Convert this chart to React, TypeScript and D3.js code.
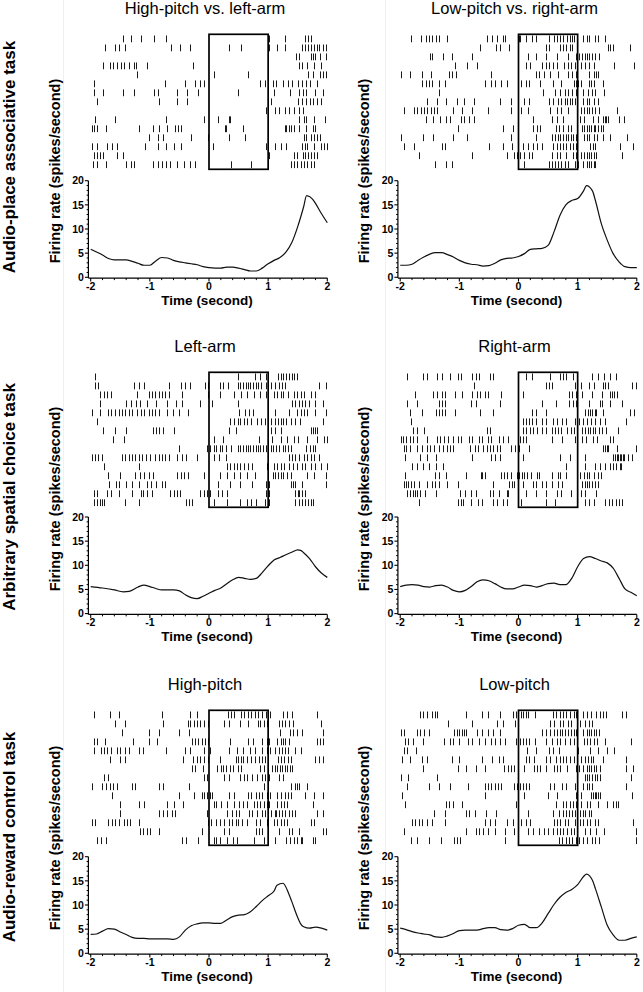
import React from "react";
import * as d3 from "d3";

const TIME_TICKS = [-2, -1, 0, 1, 2];
const RATE_TICKS = [0, 5, 10, 15, 20];
const PANEL_TITLES = [
  "High-pitch vs. left-arm",
  "Low-pitch vs. right-arm",
  "Left-arm",
  "Right-arm",
  "High-pitch",
  "Low-pitch",
];
const ROW_LABELS = [
  "Audio-place associative task",
  "Arbitrary spatial choice task",
  "Audio-reward control task",
];

// Firing-rate curves (time in s, rate in spikes/s)
const rate1T = [-2, -1.8, -1.7, -1.6, -1.4, -1.3, -1.2, -1.1, -1.0, -0.9, -0.8, -0.7, -0.6, -0.5, -0.4, -0.3, -0.2, -0.1, 0, 0.1, 0.2, 0.3, 0.4, 0.5, 0.6, 0.7, 0.8, 0.9, 1.0, 1.1, 1.2, 1.3, 1.4, 1.5, 1.6, 1.65, 1.75, 1.8, 1.9, 2.0];
const rate1V = [5.8, 4.6, 3.9, 3.6, 3.6, 3.3, 2.9, 2.5, 2.5, 3.4, 4.1, 4.0, 3.5, 3.2, 3.0, 2.8, 2.6, 2.2, 2.0, 1.9, 1.9, 2.1, 2.1, 1.9, 1.6, 1.3, 1.3, 1.9, 2.8, 3.5, 4.1, 5.2, 7.2, 10.5, 14.6, 16.9, 16.2, 15.3, 13.2, 11.3];
const rate2T = [-2, -1.9, -1.8, -1.7, -1.6, -1.5, -1.4, -1.3, -1.2, -1.1, -1.0, -0.9, -0.8, -0.7, -0.6, -0.5, -0.4, -0.3, -0.2, -0.1, 0, 0.1, 0.2, 0.3, 0.4, 0.5, 0.6, 0.7, 0.8, 0.9, 1.0, 1.1, 1.15, 1.25, 1.3, 1.4, 1.5, 1.6, 1.7, 1.8, 1.9, 2.0];
const rate2V = [2.5, 2.5, 2.7, 3.5, 4.2, 4.8, 5.1, 5.1, 4.7, 4.2, 3.5, 3.0, 2.7, 2.6, 2.3, 2.4, 2.9, 3.6, 3.9, 4.0, 4.3, 4.9, 5.8, 5.9, 6.0, 6.6, 9.4, 12.8, 15.0, 15.9, 16.3, 17.9, 19.0, 17.9, 15.9, 11.1, 7.7, 4.9, 3.2, 2.2, 2.0, 2.0];
const rate3T = [-2, -1.8, -1.6, -1.45, -1.35, -1.2, -1.1, -1.0, -0.9, -0.8, -0.6, -0.5, -0.4, -0.3, -0.2, -0.1, 0, 0.1, 0.2, 0.3, 0.4, 0.5, 0.6, 0.7, 0.8, 0.9, 1.0, 1.1, 1.2, 1.3, 1.4, 1.5, 1.55, 1.6, 1.7, 1.8, 1.9, 2.0];
const rate3V = [5.6, 5.3, 4.9, 4.5, 4.6, 5.5, 5.9, 5.6, 5.2, 4.9, 4.9, 4.7, 3.9, 3.3, 3.1, 3.6, 4.2, 4.8, 5.3, 6.2, 7.0, 7.5, 7.3, 7.1, 7.3, 8.5, 9.9, 11.1, 11.6, 12.2, 12.7, 13.2, 13.1, 12.6, 11.4, 9.7, 8.4, 7.5];
const rate4T = [-2, -1.9, -1.8, -1.7, -1.6, -1.5, -1.4, -1.3, -1.2, -1.1, -1.0, -0.9, -0.8, -0.7, -0.6, -0.5, -0.4, -0.3, -0.2, -0.1, 0, 0.1, 0.2, 0.3, 0.4, 0.5, 0.6, 0.7, 0.8, 0.9, 1.0, 1.1, 1.2, 1.3, 1.4, 1.5, 1.6, 1.7, 1.8, 1.9, 2.0];
const rate4V = [5.6, 5.9, 6.0, 5.9, 5.6, 5.5, 5.8, 5.9, 5.5, 4.8, 4.5, 4.8, 5.6, 6.6, 7.0, 6.8, 6.2, 5.5, 5.1, 5.1, 5.5, 5.9, 5.8, 5.5, 5.8, 6.2, 6.3, 6.0, 6.0, 7.3, 9.7, 11.4, 11.8, 11.4, 10.9, 10.5, 9.4, 7.3, 5.1, 4.4, 3.7];
const rate5T = [-2, -1.9, -1.8, -1.7, -1.6, -1.5, -1.4, -1.3, -1.2, -1.1, -1.0, -0.9, -0.8, -0.7, -0.6, -0.5, -0.4, -0.3, -0.2, -0.1, 0, 0.1, 0.2, 0.3, 0.4, 0.5, 0.6, 0.7, 0.8, 0.9, 1.0, 1.1, 1.15, 1.25, 1.35, 1.4, 1.5, 1.55, 1.6, 1.7, 1.8, 1.9, 2.0];
const rate5V = [3.9, 4.0, 4.6, 5.1, 5.0, 4.4, 3.9, 3.3, 3.1, 3.1, 3.0, 3.0, 3.0, 3.0, 2.9, 3.4, 4.8, 5.7, 6.1, 6.3, 6.3, 6.2, 6.2, 6.9, 7.6, 7.9, 8.0, 8.6, 9.7, 10.9, 11.9, 12.9, 14.1, 14.5, 12.3, 10.7, 7.4, 6.1, 5.5, 5.2, 5.4, 5.2, 4.8];
const rate6T = [-2, -1.9, -1.8, -1.7, -1.6, -1.5, -1.4, -1.3, -1.2, -1.1, -1.0, -0.9, -0.8, -0.7, -0.6, -0.5, -0.4, -0.3, -0.2, -0.1, 0, 0.1, 0.2, 0.3, 0.4, 0.5, 0.6, 0.7, 0.8, 0.9, 1.0, 1.1, 1.15, 1.25, 1.3, 1.4, 1.5, 1.6, 1.7, 1.8, 1.9, 2.0];
const rate6V = [5.2, 4.9, 4.5, 4.2, 4.0, 3.8, 3.4, 3.3, 3.6, 4.1, 4.7, 4.8, 4.8, 4.8, 5.1, 5.3, 5.3, 4.9, 4.8, 5.1, 5.8, 6.0, 5.3, 5.3, 6.3, 8.2, 10.1, 11.6, 12.6, 13.2, 14.2, 15.9, 16.4, 15.1, 13.4, 9.6, 5.8, 3.8, 2.7, 2.7, 3.1, 3.4];

// Spike rasters: one string of spike times (s) per trial
const raster1 = [
  "-1.46 -1.32 -1.15 -0.93 -0.72 1.02 1.28 1.62 1.67 1.73",
  "-1.75 -1.59 -1.53 -1.42 -0.65 -0.49 -0.32 0.34 0.54 1.02 1.15 1.29 1.58 1.63 1.67 1.72 1.77 1.82 1.86 1.92 1.97",
  "1.47 1.53 1.72 1.76 1.80 1.88 1.98",
  "-1.79 -1.67 -1.62 -1.56 -1.49 -1.44 -1.36 -1.27 -1.23 -1.05 -0.27 1.53 1.58 1.65 1.77 1.89",
  "-1.21 0.08 0.66 1.68 1.76 1.87 1.93 1.98",
  "-1.94 -0.74 -0.40 -0.24 -0.16 -0.08 0.87 0.95 1.08 1.13 1.25 1.34 1.40 1.50 1.58 1.64 1.71 1.82",
  "-1.95 -1.80 -1.45 -1.27 -0.93 -0.87 -0.54 -0.38 -0.19 0.49 1.10 1.37 1.53 1.59 1.64 1.80 1.92",
  "-1.89 -0.84 -0.54 -0.38 1.05 1.51 1.58 1.64 1.71 1.76 1.83 1.89",
  "0.97 1.11 1.19 1.28 1.36 1.44 1.53 1.59",
  "-1.93 -1.59 -0.73 -0.09 0.15 0.33 0.36 1.52 1.60 1.64 1.77 1.96",
  "-1.98 -1.94 -1.89 -1.74 -1.19 -0.95 -0.84 -0.71 -0.58 -0.53 -0.47 0.27 0.29 0.57 1.28 1.31 1.35 1.39 1.44 1.53 1.64 1.76 1.80",
  "-1.01 -0.87 -0.78 -0.30 -0.02 0.34 0.61 1.60 1.64 1.72 1.77 1.82 1.88",
  "-1.98 -1.90 -1.72 -1.64 -1.56 -1.08 -0.86 -0.73 -0.60 -0.47 0.06 0.96 1.11 1.22 1.31 1.58 1.62 1.66 1.77 1.89 1.94 1.99",
  "-1.95 -1.89 -1.84 -1.79 -1.55 -1.46 1.02 1.44 1.49 1.59 1.63 1.67 1.72 1.77 1.82",
  "-1.96 -1.90 -1.74 -1.41 -1.32 -1.27 -0.94 -0.87 -0.80 -0.73 -0.66 -0.54 -0.43 -0.32 -0.23 0.38 0.71 1.38 1.44 1.49 1.55 1.60 1.66 1.72 1.77",
];
const raster2 = [
  "-1.82 -1.65 -1.57 -1.51 -1.46 -1.40 -1.34 -1.21 -0.54 -0.44 -0.37 -0.26 -0.23 0.01 0.03 0.12 0.22 0.29 0.52 0.60 0.65 0.71 0.75 0.82 0.87 0.90 0.93 1.09 1.15 1.20 1.29 1.34 1.46",
  "-0.65 -0.38 -0.31 -0.16 0.47 0.52 0.71 0.75 0.81 0.87 0.90 1.51 1.55 1.60 1.89",
  "-1.49 -1.46 -1.27 -1.12 -0.78 0.16 0.29 0.47 0.65 0.84 0.98 1.03 1.07 1.12 1.16 1.20 1.25 1.30 1.36",
  "-1.07 -0.87 -0.71 0.12 0.20 0.40 0.46 0.52 0.58 0.65 0.77 0.83 0.89 0.95 1.06 1.12 1.20 1.27 1.61 1.96",
  "-1.98 -1.83 -1.63 -1.48 -1.17 -1.12 -1.06 -0.46 0.29 0.35 0.43 0.53 0.67 0.84 0.90 0.97 1.19 1.27 1.31 1.35",
  "-1.63 -1.57 -1.52 -1.46 -1.34 -1.24 -0.56 -0.47 -0.40 -0.30 -0.20 0.05 0.12 0.17 0.36 0.58 0.72 0.93 0.97 1.00 1.06 1.19 1.23 1.27 1.43",
  "-1.35 0.42 0.61 0.70 0.78 0.84 0.90 0.97 1.09 1.17 1.25 1.30 1.44",
  "-1.55 -1.37 -1.23 -1.04 -0.92 -0.76 -0.31 -0.13 0.09 0.17 0.52 0.58 0.67 0.72 0.78 0.82 0.87 0.91 0.95 0.99 1.09 1.15 1.20 1.27 1.34",
  "-1.93 -1.76 -1.71 -1.65 -1.60 -1.54 -1.48 -1.43 -1.38 -1.10 -0.95 -0.78 -0.51 -0.13 0.05 0.16 0.53 0.65 0.72 0.84 1.06 1.11 1.16 1.20 1.25 1.30 1.36 1.67",
  "-1.57 -1.44 -1.33 -1.23 -1.15 -0.98 -0.92 -0.84 -0.75 0.25 0.56 0.65 0.76 1.04 1.10 1.26 1.34 1.43 1.46 1.48 1.51 1.70 1.78",
  "-1.02 -0.26 -0.10 0.25 0.31 0.36 0.63 0.69 0.76 0.84 0.89 1.08 1.10 1.15 1.19 1.23 1.27 1.30 1.35 1.40 1.43",
  "-1.98 -1.62 -1.44 -1.11 -0.87 -0.13 0.30 0.57 0.61 0.66 0.71 0.75 0.80 0.84 0.88 0.92 0.98 1.10 1.15 1.19 1.27 1.33 1.43 1.54 1.83",
  "-1.94 -1.76 -1.30 -1.24 -0.50 -0.26 -0.11 0.08 0.16 0.25 0.31 0.39 0.58 0.65 0.71 0.75 0.81 0.87 0.92 0.98 1.21 1.26 1.30 1.72 1.93",
  "-1.68 -0.78 -0.19 -0.08 -0.02 0.02 0.09 0.17 0.23 0.57 0.65 0.71 0.81 0.92 0.98 1.06 1.10 1.15 1.19 1.23 1.27 1.31 1.75",
  "-1.42 -1.22 -1.13 0.09 0.52 0.57 0.61 0.67 0.72 0.78 0.84 0.95 1.01 1.09 1.15 1.19 1.23 1.27 1.30",
];
const raster3 = [
  "-1.92 0.49 0.77 0.87 0.96 1.17 1.21 1.25 1.30 1.35 1.40 1.44 1.49",
  "-1.93 -1.87 -1.26 -1.18 -1.10 -0.67 -0.47 -0.40 -0.32 -0.06 -0.02 0.19 0.24 0.32 0.49 0.53 0.57 0.62 0.66 0.70 0.74 0.79 0.82 0.88 0.97 1.04 1.11 1.18 1.24 1.29 1.86 1.97",
  "-1.84 -1.77 -1.72 -1.66 -1.22 -1.02 -0.96 -0.91 -0.85 -0.79 -0.74 -0.68 -0.46 -0.02 0.19 0.42 0.54 0.64 0.76 0.87 0.96 1.10 1.15 1.21 1.25 1.33 1.44 1.49 1.55 1.60 1.73 1.80",
  "-1.85 -1.40 -1.32 -1.23 -1.16 -1.05 -0.90 -0.71 -0.56 -0.46 -0.16 0.05 0.49 1.41 1.46 1.52 1.58 1.63 1.69 1.80 1.92",
  "-1.98 -1.84 -1.70 -1.66 -1.59 -1.53 -1.47 -1.42 -1.36 -1.31 -1.21 -1.15 -1.10 -1.02 -0.97 -0.91 -0.85 -0.71 -0.61 -0.50 -0.36 0.51 0.61 0.67 0.74 1.12 1.35 1.49 1.55 1.60 1.66 1.80 1.97",
  "-1.90 0.35 0.42 0.49 0.53 0.59 0.64 0.71 0.81 0.88 0.95 1.04 1.11 1.16 1.21 1.25 1.31 1.38 1.45 1.54 1.93",
  "-1.79 -1.59 -1.41 -0.95 -0.89 -0.84 -0.78 -0.60 0.33 0.45 1.05 1.11 1.21 1.72 1.76 1.80 1.83",
  "-1.62 -1.44 0.08 0.23 0.85 1.07 1.21 1.32 1.44 1.50 1.66 1.82 1.95 1.99",
  "-0.50 -0.03 0.01 0.08 0.12 0.18 0.22 0.29 0.37 0.49 0.53 0.58 0.62 0.66 0.70 0.75 0.79 0.83 0.87 0.91 0.96 1.00 1.05 1.09 1.14 1.18 1.25 1.29 1.33 1.38 1.64 1.71 1.75 1.80",
  "-1.98 -1.93 -1.87 -1.81 -1.47 -1.42 -1.36 -1.31 -1.25 -1.19 -1.14 -1.07 -0.99 -0.91 -0.85 -0.79 -0.74 -0.68 -0.54 -0.46 -0.39 -0.20 0.08 0.17 0.28 1.35 1.41 1.46 1.52 1.60 1.66 1.72 1.77 1.86",
  "-1.77 -1.18 0.31 0.36 0.42 0.47 0.53 0.59 0.66 0.73 0.98 1.10 1.15 1.21 1.27 1.35 1.42 1.49 1.58 1.63 1.72 1.80 1.89 1.99",
  "-1.71 -1.51 -1.25 -1.16 -1.10 -1.01 -0.94 -0.54 -0.48 -0.43 -0.36 -0.09 0.18 0.31 0.42 0.53 0.64 0.77 1.08 1.12 1.16 1.21 1.25 1.32 1.38 1.66 1.77 1.97",
  "-1.69 -1.57 -1.52 -1.41 -1.31 -1.18 -1.05 -0.98 -0.89 -0.80 -0.74 0.16 0.36 0.53 0.73 0.97 1.02 1.39 1.42 1.46 1.58 1.97",
  "-1.94 -1.90 -1.73 -1.66 -1.52 -1.31 -1.15 -1.11 -1.05 -0.97 -0.66 -0.60 -0.54 -0.49 -0.15 -0.09 -0.03 0.02 0.15 0.22 0.31 0.97 1.02 1.46 1.50 1.53 1.58 1.62",
  "-1.94 -1.90 -1.85 -1.81 -1.77 -1.42 -1.18 -0.39 -0.33 -0.28 0.08 0.31 0.53 0.64 0.71 0.79 0.95 1.01 1.46 1.52 1.58 1.63 1.67 1.72 1.75",
];
const raster4 = [
  "-1.88 -1.61 -1.55 -1.38 -1.30 -1.15 -1.03 -0.98 -0.78 -0.72 -0.66 -0.49 -0.43 0.13 0.23 0.54 0.70 0.75 0.81 0.92 1.24 1.34 1.44 1.54 1.65",
  "-0.76 0.46 0.52 0.57 0.96 1.06 1.20 1.27 1.43 1.47 1.52 1.92 1.99",
  "-1.75 -1.44 -1.38 -1.30 -1.24 -1.07 -0.96 -0.78 -0.71 -0.65 -0.57 -0.51 -0.29 0.08 0.85 0.91 0.98 1.07 1.24 1.42 1.54 1.58 1.62 1.67",
  "-1.89 -1.71 -1.34 -1.29 -1.24 -0.81 -0.72 -0.31 0.39 0.64 0.85 0.92 0.98 1.20 1.37 1.42 1.54 1.75",
  "-1.84 -1.63 -1.40 -1.35 -1.30 -1.24 -1.07 -0.65 -0.43 0.23 0.29 0.47 1.12 1.18 1.21 1.25 1.29 1.31 1.43 1.88 1.96",
  "-1.82 0.08 0.12 0.17 0.23 0.30 0.39 0.47 0.58 0.65 0.74 0.81 0.96 1.02 1.09 1.16 1.23 1.30 1.37 1.47 1.81",
  "-1.78 -1.71 -1.60 -0.54 -0.49 0.08 0.13 0.19 0.25 0.31 0.39 0.47 0.56 0.61 0.67 0.72 0.82 0.88 0.93 0.99 1.07 1.12 1.17 1.21 1.26 1.30 1.36 1.42 1.48 1.69",
  "-1.99 -1.96 -1.90 -1.84 -1.79 -1.72 -1.55 -1.38 -1.33 -1.26 -1.20 -1.10 -1.03 -0.98 -0.84 -0.78 -0.67 -0.61 -0.51 -0.46 -0.33 -0.26 -0.17 0.02 0.08 0.13 0.57 0.74 0.96 1.08 1.14 1.26 1.32 1.55 1.60",
  "-1.94 -1.90 -1.83 -1.71 -1.63 -1.55 -1.49 -1.43 -1.35 -1.27 -1.21 -1.16 -1.10 -0.82 -0.74 -0.68 -0.60 -0.54 -0.48 -0.43 -0.37 -0.31 -0.12 -0.06 0.01 0.17 1.43 1.46 1.49 1.52 1.66 1.99",
  "-1.92 -1.67 -1.55 -1.40 -0.78 -0.47 -0.40 -0.31 0.07 0.71 0.87 1.13 1.60 1.63 1.66 1.69 1.71 1.74 1.76 1.79 1.85 1.92",
  "-1.80 -1.71 -1.61 -1.52 -1.40 -1.27 0.81 1.13 1.30 1.37 1.47 1.54 1.60 1.65 1.71 1.74",
  "-1.92 -1.41 -1.34 -1.22 -0.88 -0.64 -0.61 -0.57 -0.29 -0.25 -0.19 -0.12 -0.03 0.01 0.06 0.10 0.15 0.21 0.31 0.35 0.57 0.66 0.70 0.81 1.04 1.10 1.15 1.20 1.27 1.34 1.40",
  "-1.94 -1.90 -1.86 -1.82 -1.76 -1.69 -1.54 -1.47 -1.41 -1.35 -1.21 -1.02 -0.43 -0.16 -0.11 -0.07 0.08 0.25 0.30 0.39 0.47 0.57 0.66 0.74 1.08 1.12 1.16 1.20 1.25 1.30 1.34",
  "-1.88 -1.83 -1.79 -1.75 -1.71 -1.66 -1.58 -1.40 -0.99 -0.90 -0.81 -0.72 -0.48 -0.43 -0.33 -0.20 -0.18 0.13 0.29 0.46 0.65 0.72 0.88 1.06 1.12 1.31",
  "-1.68 -1.02 -0.97 -0.93 -0.81 -0.68 -0.62 -0.43 -0.37 -0.26 -0.20 0.04 0.46 0.62 1.12 1.19 1.27 1.47 1.53 1.58 1.64 1.70 1.75",
];
const raster5 = [
  "-1.95 -1.67 -1.53 -0.80 -0.32 -0.20 0.32 0.37 0.42 0.54 0.60 0.66 0.71 0.77 0.82 0.90 0.97 1.03 1.25 1.32 1.41 1.83",
  "-1.59 -1.42 -0.77 -0.36 -0.32 -0.26 -0.20 -0.15 -0.08 -0.01 0.25 0.34 0.52 0.66 0.82 0.87 0.93 0.98 1.18 1.24 1.29 1.35 1.42 1.89",
  "-1.47 -1.01 -0.85 -0.51 -0.33 1.20 1.37 1.42 1.49 1.58 1.92",
  "-1.94 -1.90 -1.76 -1.28 -1.02 -0.88 -0.29 -0.23 -0.18 -0.12 -0.06 -0.01 0.36 0.66 0.74 0.90 0.98 1.01 1.15 1.21 1.25 1.29 1.35 1.83 1.87 1.92",
  "-1.94 -1.82 -1.77 -1.72 -1.66 -1.56 -1.50 -1.42 -1.36 -1.19 -1.11 -0.73 -0.40 -0.32 -0.09 0.02 0.33 0.47 0.58 0.69 0.78 0.90 0.98 1.03 1.12 1.18 1.24 1.29 1.33 1.46 1.55",
  "-1.67 -1.50 -1.42 -0.44 -0.27 -0.20 -0.15 -0.08 -0.01 0.19 0.45 0.49 0.54 0.58 0.64 0.71 0.77 0.84 0.90 0.95 1.16 1.22 1.27 1.33 1.38 1.80 1.86 1.92",
  "-0.29 -0.23 -0.10 0.14 0.20 0.24 0.29 0.35 0.41 0.49 0.54 0.87 0.93 1.07 1.11 1.15 1.20 1.24 1.28 1.32 1.37 1.41",
  "-1.77 -1.70 -0.09 -0.03 0.25 0.33 0.53 0.59 0.64 0.73 0.81 0.90 0.95 1.01 1.18 1.25",
  "-1.98 -1.81 -1.74 -1.68 -1.63 -1.56 -1.31 -1.25 -0.85 -0.77 -0.34 0.93 1.38 1.46 1.49 1.52 1.66",
  "-1.64 -0.51 -0.25 -0.12 -0.08 -0.03 0.01 0.05 0.33 0.43 0.66 0.71 0.79 0.84 0.90 0.98 1.03 1.15 1.22 1.29 1.33 1.38 1.63 1.77 1.92",
  "-1.50 -1.18 -1.10 -0.71 -0.59 -0.44 0.08 0.12 0.20 0.31 0.42 0.50 0.58 0.64 0.76 0.81 0.87 0.93 0.98 1.01 1.15 1.21 1.27 1.32 1.75",
  "-1.51 -0.85 -0.78 -0.71 -0.62 -0.57 -0.03 0.31 0.39 0.45 0.50 0.67 0.73 0.81 0.90 0.95 1.04 1.11 1.14 1.18 1.24 1.29 1.35 1.41 1.46 1.83 1.92",
  "-1.98 -1.93 -1.70 -1.64 -1.59 -1.53 -1.44 -1.38 -1.33 -1.18 -0.02 0.03 0.11 0.19 0.26 0.33 0.39 0.45 0.49 0.56 0.64 0.79 0.86 0.98 1.10 1.15 1.21 1.27 1.32 1.72 1.77",
  "-1.16 -1.11 -1.05 -0.99 -0.85 -0.12 0.26 0.33 0.79 0.85 0.90 1.18 1.35 1.41 1.52 1.92 1.97",
  "-1.90 -1.82 -1.74 -0.46 -0.39 -0.19 0.08 0.12 0.18 0.31 0.41 0.48 0.76 0.93 1.12 1.31 1.37 1.44 1.49 1.55 1.58 1.75 1.80",
];
const raster6 = [
  "-1.67 -1.61 -1.54 -1.47 -1.41 -1.37 -0.89 -0.62 -0.51 -0.31 -0.10 -0.04 0.04 0.08 0.12 0.16 0.28 0.58 0.64 0.70 0.75 0.81 0.87 0.93 0.98 1.09 1.15 1.23 1.31 1.37 1.43 1.48 1.75 1.81",
  "-1.20 -0.78 -0.36 -0.27 -0.06 0.54 0.60 0.71 0.76 0.84 0.88 1.04 1.12 1.19 1.25",
  "-1.98 -1.94 -1.71 -1.66 -1.60 -1.52 -1.09 -1.04 -1.00 -0.96 -0.92 -0.88 -0.70 -0.62 -0.51 -0.43 -0.31 0.39 0.46 0.53 0.60 0.65 0.70 0.74 0.78 0.84 0.88 0.93 0.98 1.09 1.15 1.19 1.23 1.27 1.31 1.36",
  "-1.92 -1.86 -1.78 -1.62 -1.26 -1.16 -1.10 -1.01 -0.85 -0.79 -0.67 -0.56 -0.47 -0.39 -0.31 -0.23 -0.04 -0.01 0.03 0.08 0.12 0.17 0.28 0.47 0.57 0.65 0.71 0.78 0.87 0.93 0.99 1.10 1.15 1.21 1.27 1.33 1.46 1.90",
  "-1.94 -1.88 -1.73 0.15 0.29 0.52 0.58 0.69 1.01 1.21 1.35 1.49 1.62",
  "-1.97 -1.83 -1.63 -1.55 -1.13 -1.00 -0.61 -0.44 -0.33 -0.26 0.13 0.18 0.26 0.46 0.53 0.64 0.70 0.75 0.81 0.87 0.93 0.99 1.06 1.12 1.17 1.23 1.26 1.43 1.82",
  "-1.62 -1.03 -0.88 -0.72 -0.56 -0.24 -0.18 -0.13 -0.07 0.09 0.26 0.32 0.37 0.47 0.60 0.65 0.71 0.82 0.98 1.03 1.09 1.15 1.19 1.23 1.27 1.31 1.37 1.81 1.93",
  "-1.98 -1.86 -1.38 1.12 1.16 1.20 1.25 1.29 1.33 1.37 1.90",
  "-1.88 -1.51 -1.35 -1.16 -0.85 -0.57 -0.51 -0.46 -0.40 -0.34 -0.29 -0.07 -0.02 0.02 0.08 0.13 0.18 0.54 0.60 0.74 0.80 0.95 0.99 1.09 1.15 1.20 1.25 1.81",
  "-1.97 -0.57 0.10 0.50 0.65 0.98 1.06 1.23 1.26 1.29 1.31 1.34 1.37 1.92",
  "-1.92 -1.22 -1.17 -1.11 -0.95 -0.04 0.63 0.75 0.81 0.87 0.92 0.98 1.06 1.15 1.21 1.34 1.50 1.60 1.65 1.69",
  "-1.43 -1.24 -0.88 -0.83 -0.74 -0.55 -0.38 0.16 0.58 0.68 0.76 0.81 0.85 0.90 0.95 0.99 1.04 1.09 1.13 1.19 1.23",
  "-1.80 -1.75 -1.69 -1.63 -1.54 -1.46 -1.24 -0.56 -0.48 -0.40 -0.19 -0.10 0.05 0.12 0.19 0.60 0.65 0.71 0.78 0.84 0.95 1.04 1.09 1.15 1.21 1.29 1.34 1.94",
  "-1.94 -0.89 -0.72 -0.67 -0.60 -0.51 -0.39 -0.23 -0.08 0.16 0.25 0.35 0.43 0.50 0.58 0.65 0.71 0.76 0.82 0.88 0.93 0.99 1.13 1.21 1.31 1.44 1.99",
  "-1.82 -1.72 -1.52 -1.31 -1.09 -1.04 -0.99 -0.23 0.69 0.74 0.80 0.85 0.91 0.97 1.02 1.09 1.15 1.24 1.29 1.36 1.99",
];

const RASTERS = [raster1, raster2, raster3, raster4, raster5, raster6];
const RATE_T = [rate1T, rate2T, rate3T, rate4T, rate5T, rate6T];
const RATE_V = [rate1V, rate2V, rate3V, rate4V, rate5V, rate6V];

const FONT = "'Liberation Sans', Arial, Helvetica, sans-serif";
const W = 643;
const H = 992;
const PLOT_W = 236.6;
const COL_X = [90.7, 400.2];
const ROW_STEP = 338;
const BOX_TOP0 = 34.3;
const BOX_H = 135;
const LINE_TOP = [180.7, 517, 856.7];
const LINE_H = 96.6;
const YLABEL_CY = [171, 499, 838];
const ROWLABEL_CY = [157, 497, 837];

function Panel({ idx }: { idx: number }) {
  const col = idx % 2;
  const row = Math.floor(idx / 2);
  const x0 = COL_X[col];
  const x = d3.scaleLinear().domain([-2, 2]).range([x0, x0 + PLOT_W]);
  const boxTop = BOX_TOP0 + ROW_STEP * row;
  const trials = RASTERS[idx].map((s) => s.trim().split(/\s+/).map(Number));
  const yTrial = d3
    .scalePoint<number>()
    .domain(d3.range(trials.length))
    .range([boxTop + 4.6, boxTop + BOX_H - 4.6]);
  const lineTop = LINE_TOP[row];
  const y = d3.scaleLinear().domain([0, 20]).range([lineTop + LINE_H, lineTop]);
  const pts: [number, number][] = RATE_T[idx].map((t, i) => [t, RATE_V[idx][i]]);
  const lineGen = d3
    .line<[number, number]>()
    .x((d) => x(d[0]))
    .y((d) => y(d[1]))
    .curve(d3.curveMonotoneX);
  const axisX = x0 - 2.3;
  const axisY = y(0) + 0.8;
  const minorY = d3.range(0, 21, 1).filter((v) => v % 5 !== 0);
  const minorX = d3.range(-20, 21, 2).map((v) => v / 10).filter((v) => Math.abs(v - Math.round(v)) > 1e-6);
  return (
    <g>
      <text
        x={x(0) - 4}
        y={boxTop - 20}
        textAnchor="middle"
        fontSize={16.5}
        fontFamily={FONT}
        fill="#000"
      >
        {PANEL_TITLES[idx]}
      </text>
      {trials.map((ts, i) => (
        <g key={i}>
          {ts.map((t, j) => {
            const px = Math.round(x(t)) + 0.5;
            const cy = yTrial(i) as number;
            return (
              <line
                key={j}
                x1={px}
                x2={px}
                y1={cy - 3.4}
                y2={cy + 3.4}
                stroke="#1a1a1a"
                strokeWidth={1}
              />
            );
          })}
        </g>
      ))}
      <rect
        x={x(0)}
        y={boxTop}
        width={x(1) - x(0)}
        height={BOX_H}
        fill="none"
        stroke="#000"
        strokeWidth={1.7}
      />
      {/* axes */}
      <line x1={axisX} x2={axisX} y1={y(20)} y2={axisY} stroke="#000" strokeWidth={1.2} />
      <line x1={axisX} x2={x(2)} y1={axisY} y2={axisY} stroke="#000" strokeWidth={1.2} />
      {RATE_TICKS.map((v) => (
        <g key={"yt" + v}>
          <line x1={axisX - 3.5} x2={axisX} y1={y(v)} y2={y(v)} stroke="#000" strokeWidth={1.1} />
          <text
            x={axisX - 4.5}
            y={y(v)}
            dy="0.36em"
            textAnchor="end"
            fontSize={10.5}
            fontWeight="bold"
            fontFamily={FONT}
          >
            {v}
          </text>
        </g>
      ))}
      {minorY.map((v) => (
        <line key={"ym" + v} x1={axisX - 1.8} x2={axisX} y1={y(v)} y2={y(v)} stroke="#000" strokeWidth={1} />
      ))}
      {TIME_TICKS.map((v) => (
        <g key={"xt" + v}>
          <line x1={x(v)} x2={x(v)} y1={axisY} y2={axisY + 3.5} stroke="#000" strokeWidth={1.1} />
          <text
            x={x(v)}
            y={axisY + 11.5}
            textAnchor="middle"
            fontSize={10.5}
            fontWeight="bold"
            fontFamily={FONT}
          >
            {v}
          </text>
        </g>
      ))}
      {minorX.map((v) => (
        <line key={"xm" + v} x1={x(v)} x2={x(v)} y1={axisY} y2={axisY + 2} stroke="#000" strokeWidth={1} />
      ))}
      <path d={lineGen(pts) || ""} fill="none" stroke="#111" strokeWidth={1.2} />
      <text
        transform={`translate(${x0 - 31.2},${YLABEL_CY[row]}) rotate(-90)`}
        textAnchor="middle"
        fontSize={14.5}
        fontWeight="bold"
        fontFamily={FONT}
      >
        Firing rate (spikes/second)
      </text>
      <text
        x={x(0) - 2}
        y={axisY + 27}
        textAnchor="middle"
        fontSize={13.5}
        fontWeight="bold"
        fontFamily={FONT}
      >
        Time (second)
      </text>
    </g>
  );
}

export default function App() {
  return (
    <svg
      width={W}
      height={H}
      viewBox={`0 0 ${W} ${H}`}
      style={{ position: "absolute", left: 0, top: 0, background: "#fff" }}
    >
      <rect x={0} y={0} width={W} height={H} fill="#fff" />
      <line x1={63.5} x2={63.5} y1={0} y2={H} stroke="#f0f0f0" strokeWidth={1} />
      <line x1={385.5} x2={385.5} y1={0} y2={H} stroke="#f0f0f0" strokeWidth={1} />
      {ROW_LABELS.map((lbl, i) => (
        <text
          key={lbl}
          transform={`translate(15,${ROWLABEL_CY[i]}) rotate(-90)`}
          textAnchor="middle"
          fontSize={17}
          fontWeight="bold"
          fontFamily={FONT}
        >
          {lbl}
        </text>
      ))}
      {d3.range(6).map((i) => (
        <Panel key={i} idx={i} />
      ))}
    </svg>
  );
}
